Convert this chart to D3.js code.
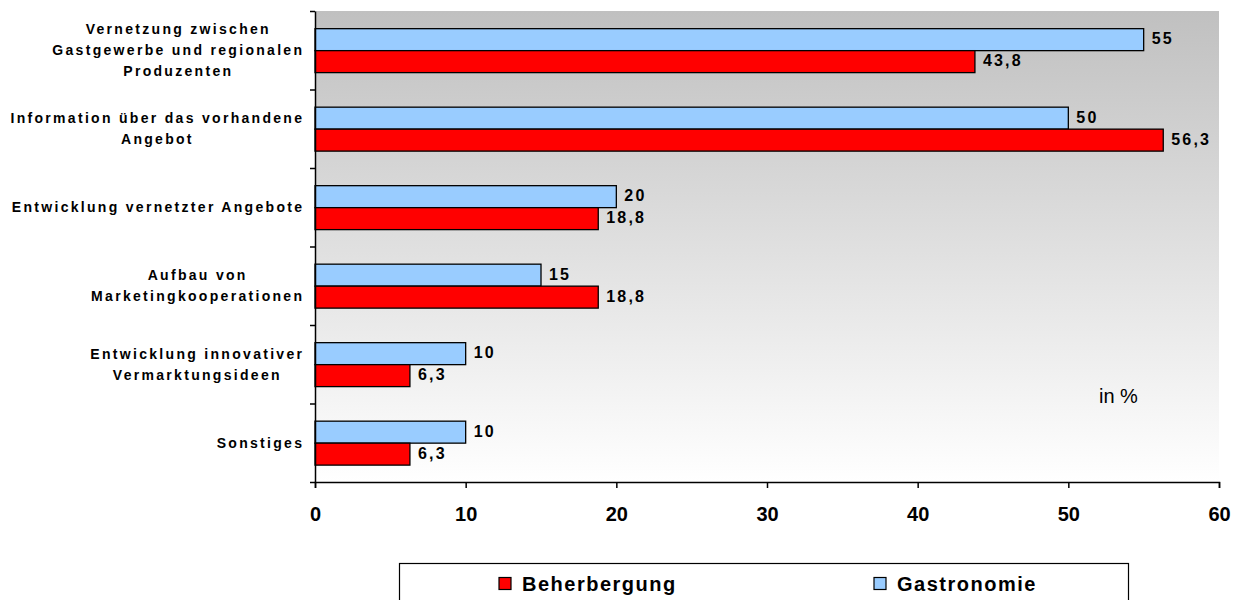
<!DOCTYPE html>
<html>
<head>
<meta charset="utf-8">
<script src="https://cdn.jsdelivr.net/npm/d3@7/dist/d3.min.js"></script>
<style>
  html, body { margin: 0; padding: 0; background: #ffffff; }
  svg { display: block; font-family: "Liberation Sans", Arial, sans-serif; }
</style>
</head>
<body>
<div id="chart"></div>
<script>
// chart values
var categories = [
  "Vernetzung zwischen\nGastgewerbe und regionalen\nProduzenten",
  "Information über das vorhandene\nAngebot",
  "Entwicklung vernetzter Angebote",
  "Aufbau von\nMarketingkooperationen",
  "Entwicklung innovativer\nVermarktungsideen",
  "Sonstiges"
];
var seriesNames = ["Gastronomie", "Beherbergung"];
var gastronomie = [55, 50, 20, 15, 10, 10];
var beherbergung = [43.8, 56.3, 18.8, 18.8, 6.3, 6.3];
var xTicks = [0, 10, 20, 30, 40, 50, 60];
var legendOrder = ["Beherbergung", "Gastronomie"];

var width = 1237, height = 600;
var margin = {top: 11, right: 18, bottom: 118, left: 315};
var colors = {"Beherbergung": "#ff0000", "Gastronomie": "#99ccff"};

var svg = d3.select("#chart").append("svg")
  .attr("width", width)
  .attr("height", height);

// scales
var x = d3.scaleLinear()
  .domain([0, 60])
  .range([margin.left, width - margin.right]);

var y = d3.scaleBand()
  .domain(categories)
  .range([margin.top, height - margin.bottom]);

var bw = y.bandwidth();
var ySeries = d3.scaleBand()
  .domain(seriesNames)
  .range([bw * 0.225, bw * 0.785]);

// gradient for the plot background
var defs = svg.append("defs");
var grad = defs.append("linearGradient")
  .attr("id", "bg")
  .attr("x1", 0).attr("y1", 0).attr("x2", 0).attr("y2", 1);
grad.append("stop").attr("offset", "0%").attr("stop-color", "#c0c0c0");
grad.append("stop").attr("offset", "100%").attr("stop-color", "#ffffff");

svg.append("rect")
  .attr("x", x(0))
  .attr("y", margin.top)
  .attr("width", x(60) - x(0))
  .attr("height", height - margin.bottom - margin.top)
  .attr("fill", "url(#bg)");

// bars
var rows = [];
categories.forEach(function(c, i) {
  rows.push({cat: c, series: "Gastronomie", value: gastronomie[i]});
  rows.push({cat: c, series: "Beherbergung", value: beherbergung[i]});
});

var fmt = d3.formatLocale({decimal: ",", thousands: ".", grouping: [3], currency: ["", " €"]}).format("~f");

svg.append("g").attr("class", "bars")
  .selectAll("rect")
  .data(rows)
  .enter()
  .append("rect")
  .attr("x", x(0))
  .attr("y", function(d) { return y(d.cat) + ySeries(d.series); })
  .attr("width", function(d) { return x(d.value) - x(0); })
  .attr("height", ySeries.bandwidth())
  .attr("fill", function(d) { return colors[d.series]; })
  .attr("stroke", "#000000")
  .attr("stroke-width", 1.3);

// value labels
svg.append("g").attr("class", "values")
  .selectAll("text")
  .data(rows)
  .enter()
  .append("text")
  .attr("x", function(d) { return x(d.value) + 8; })
  .attr("y", function(d) { return y(d.cat) + ySeries(d.series) + ySeries.bandwidth() / 2 + 4.5; })
  .attr("font-size", "16px")
  .attr("font-weight", "bold")
  .attr("letter-spacing", "2.2px")
  .attr("fill", "#000000")
  .text(function(d) { return fmt(d.value); });

// axes
var yIdx = d3.scaleLinear().domain([0, categories.length]).range([margin.top, height - margin.bottom]);
svg.append("g")
  .attr("class", "y_axis")
  .attr("transform", "translate(" + x(0) + ",0)")
  .call(d3.axisLeft(yIdx).tickValues(d3.range(categories.length + 1)).tickFormat("").tickSize(5).tickSizeOuter(0))
  .call(function(g) {
    g.selectAll("path, line").attr("stroke", "#000000").attr("stroke-width", 1.5);
  });

var xAxis = svg.append("g")
  .attr("class", "x_axis")
  .attr("transform", "translate(0," + (height - margin.bottom) + ")")
  .call(d3.axisBottom(x).tickValues(xTicks).tickSize(6).tickSizeOuter(6).tickPadding(19));
xAxis.selectAll("path, line").attr("stroke", "#000000").attr("stroke-width", 1.5);
xAxis.selectAll("text")
  .attr("font-family", "Liberation Sans, Arial, sans-serif")
  .attr("font-size", "20px")
  .attr("font-weight", "bold")
  .attr("fill", "#000000");

// category labels: lines centred with each other, block right-aligned
var labelRight = 302;
var lineH = 21;
var labels = svg.append("g").attr("class", "cat_labels");
categories.forEach(function(c) {
  var lines = c.split("\n");
  var cy = y(c) + bw / 2;
  var t = labels.append("text")
    .attr("font-size", "14px")
    .attr("font-weight", "bold")
    .attr("letter-spacing", "2.3px")
    .attr("fill", "#000000")
    .attr("text-anchor", "middle");
  var spans = lines.map(function(l, k) {
    return t.append("tspan")
      .attr("y", cy + (k - (lines.length - 1) / 2) * lineH + 5)
      .text(l);
  });
  var maxW = d3.max(spans, function(s) { return s.node().getComputedTextLength(); });
  spans.forEach(function(s) { s.attr("x", labelRight + 2.3 - maxW / 2); });
});

// "in %" note
svg.append("text")
  .attr("x", 1099)
  .attr("y", 403)
  .attr("font-size", "20px")
  .attr("fill", "#000000")
  .text("in %");

// legend
var legend = svg.append("g").attr("class", "legend");
legend.append("rect")
  .attr("x", 399.5).attr("y", 563.5)
  .attr("width", 729).attr("height", 50)
  .attr("fill", "#ffffff")
  .attr("stroke", "#000000")
  .attr("stroke-width", 1.2);

var legendX = d3.scalePoint().domain(legendOrder).range([499, 874]);
var li = legend.selectAll("g.item")
  .data(legendOrder)
  .enter()
  .append("g")
  .attr("class", "item")
  .attr("transform", function(d) { return "translate(" + legendX(d) + ",577.5)"; });
li.append("rect")
  .attr("width", 12).attr("height", 12)
  .attr("fill", function(d) { return colors[d]; })
  .attr("stroke", "#000000")
  .attr("stroke-width", 1.2);
li.append("text")
  .attr("x", 23)
  .attr("y", 13.5)
  .attr("font-size", "20px")
  .attr("font-weight", "bold")
  .attr("letter-spacing", "1.5px")
  .attr("fill", "#000000")
  .text(function(d) { return d; });
</script>
</body>
</html>
